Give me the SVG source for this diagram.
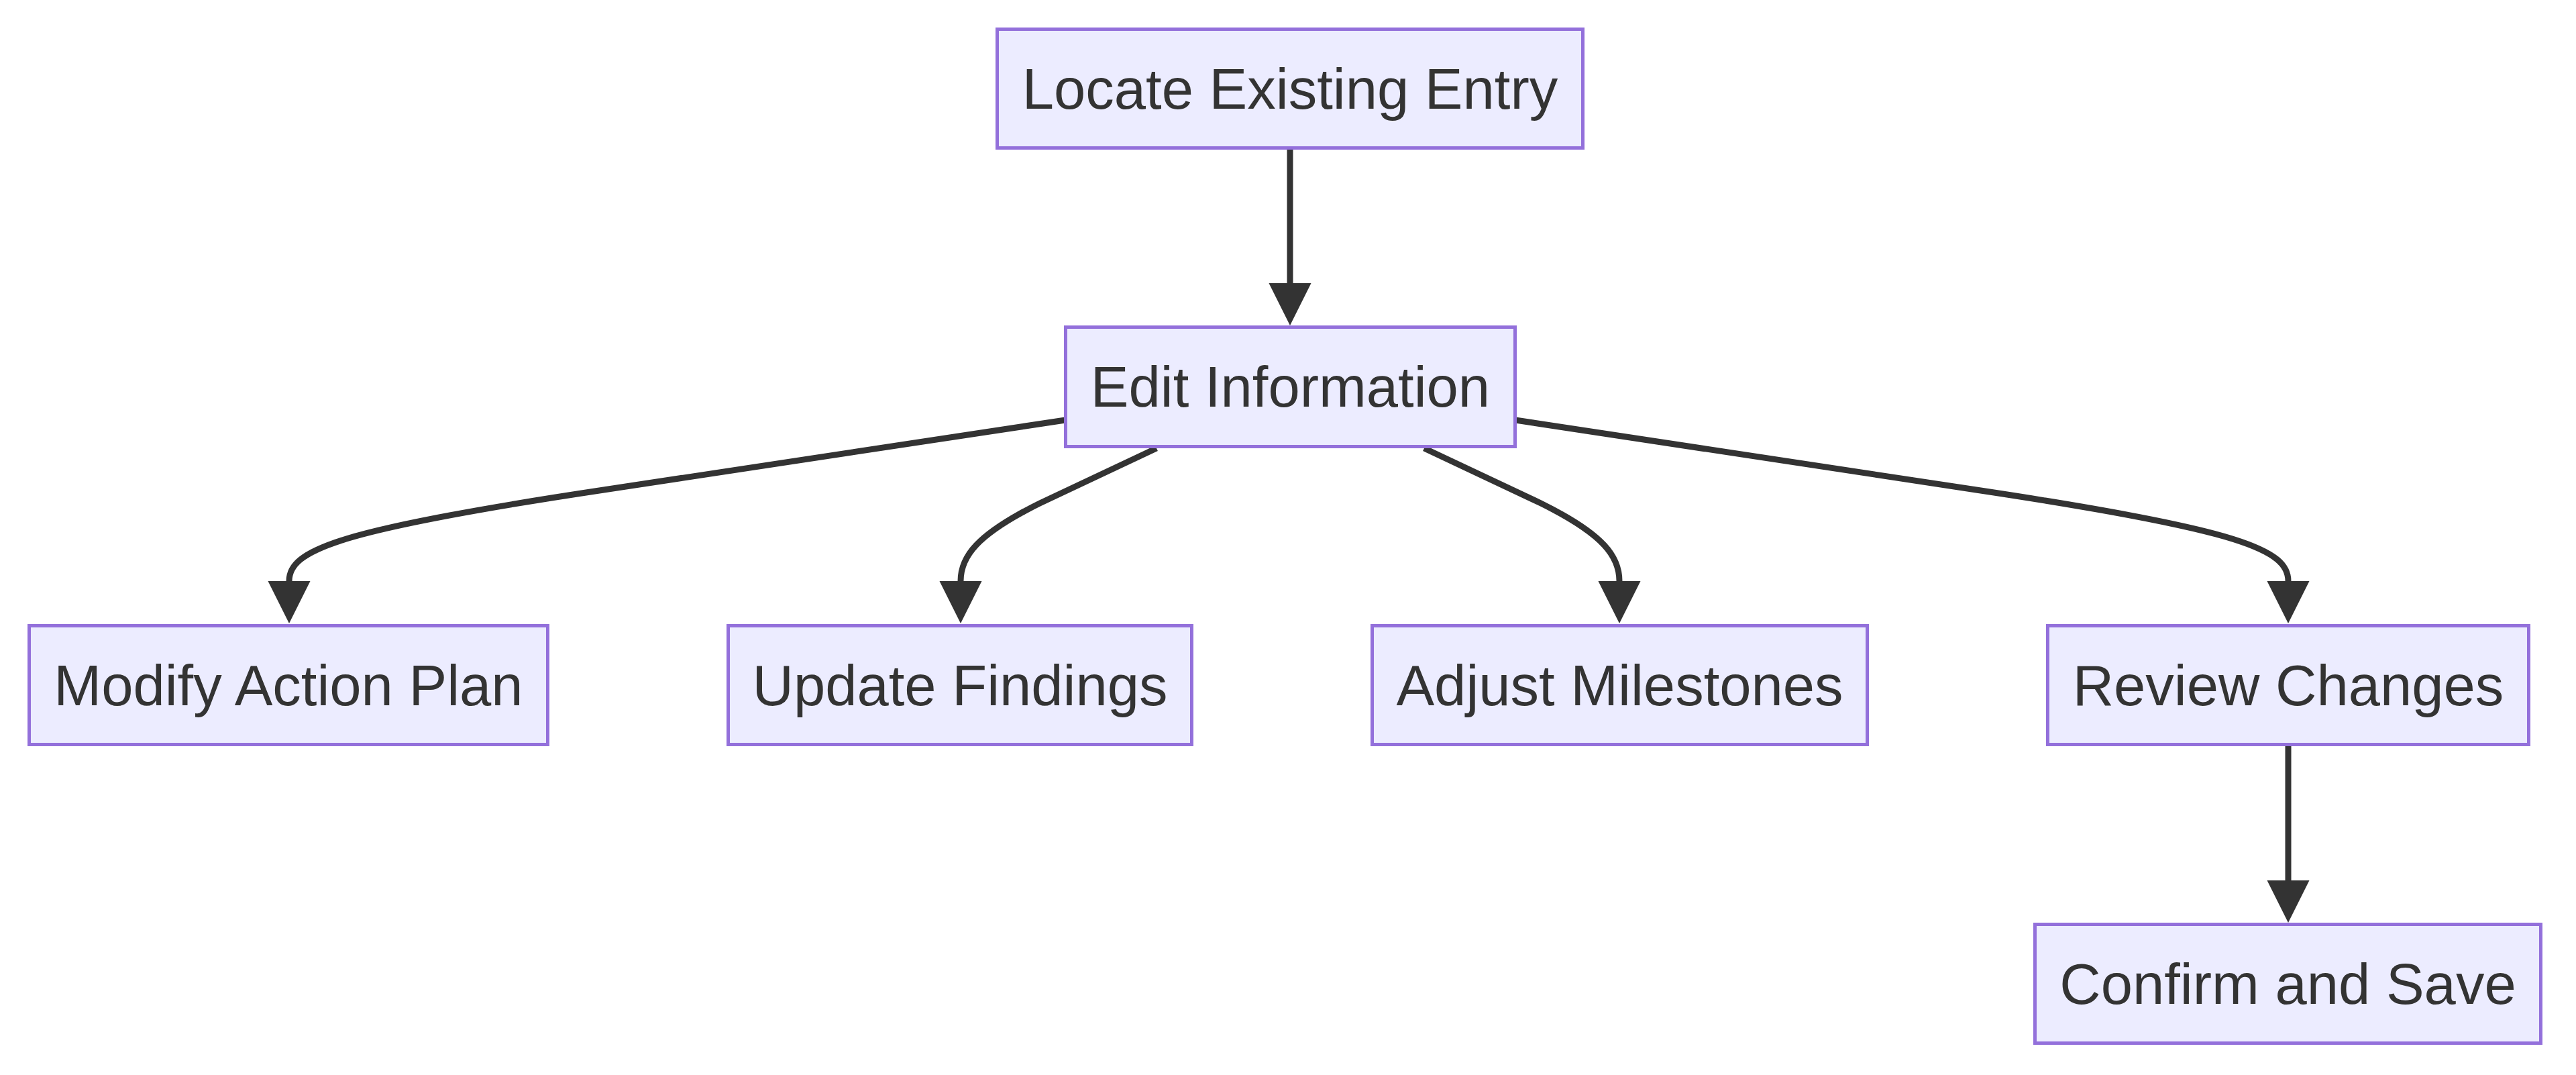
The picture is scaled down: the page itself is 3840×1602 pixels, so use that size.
<svg xmlns="http://www.w3.org/2000/svg" width="3840" height="1602" viewBox="0 0 3840 1602">
<style>
.node rect{fill:#ECECFF;stroke:#9370DB;stroke-width:5}
.node text{font-family:"Liberation Sans",Arial,sans-serif;font-size:85px;fill:#333333;text-anchor:middle}
.edge{fill:none;stroke:#333333;stroke-width:9}
</style>
<defs>
<marker id="arrow" viewBox="0 0 10 10" refX="0" refY="5" markerUnits="userSpaceOnUse" markerWidth="63" markerHeight="64" orient="auto">
<path d="M0,0 L10,5 L0,10 z" fill="#333333"/>
</marker>
</defs>
<rect width="3840" height="1602" fill="#ffffff"/>
<g id="connectors">
<path class="edge" marker-end="url(#arrow)" d="M1923,223 L1923,422"/>
<path class="edge" marker-end="url(#arrow)" d="M1588,626 L900,730 C500,790 431,820 431,866"/>
<path class="edge" marker-end="url(#arrow)" d="M1724,668 L1550,750 C1455,797 1432,830 1432,866"/>
<path class="edge" marker-end="url(#arrow)" d="M2123,668 L2297,750 C2392,797 2414,830 2414,866"/>
<path class="edge" marker-end="url(#arrow)" d="M2259,626 L2946,730 C3346,790 3411,820 3411,866"/>
<path class="edge" marker-end="url(#arrow)" d="M3411,1112 L3411,1312"/>
</g>
<g id="locate" class="node"><rect x="1486.5" y="43.5" width="873" height="177"/><text x="1923" y="162">Locate Existing Entry</text></g>
<g id="edit" class="node"><rect x="1588.5" y="487.5" width="670" height="178"/><text x="1923.5" y="606">Edit Information</text></g>
<g id="modify" class="node"><rect x="43.5" y="932.5" width="773" height="177"/><text x="430" y="1051">Modify Action Plan</text></g>
<g id="update" class="node"><rect x="1085.5" y="932.5" width="691" height="177"/><text x="1431" y="1051">Update Findings</text></g>
<g id="adjust" class="node"><rect x="2045.5" y="932.5" width="738" height="177"/><text x="2414.5" y="1051">Adjust Milestones</text></g>
<g id="review" class="node"><rect x="3052.5" y="932.5" width="717" height="177"/><text x="3411" y="1051">Review Changes</text></g>
<g id="confirm" class="node"><rect x="3033.5" y="1377.5" width="754" height="177"/><text x="3410.5" y="1496">Confirm and Save</text></g>
</svg>
